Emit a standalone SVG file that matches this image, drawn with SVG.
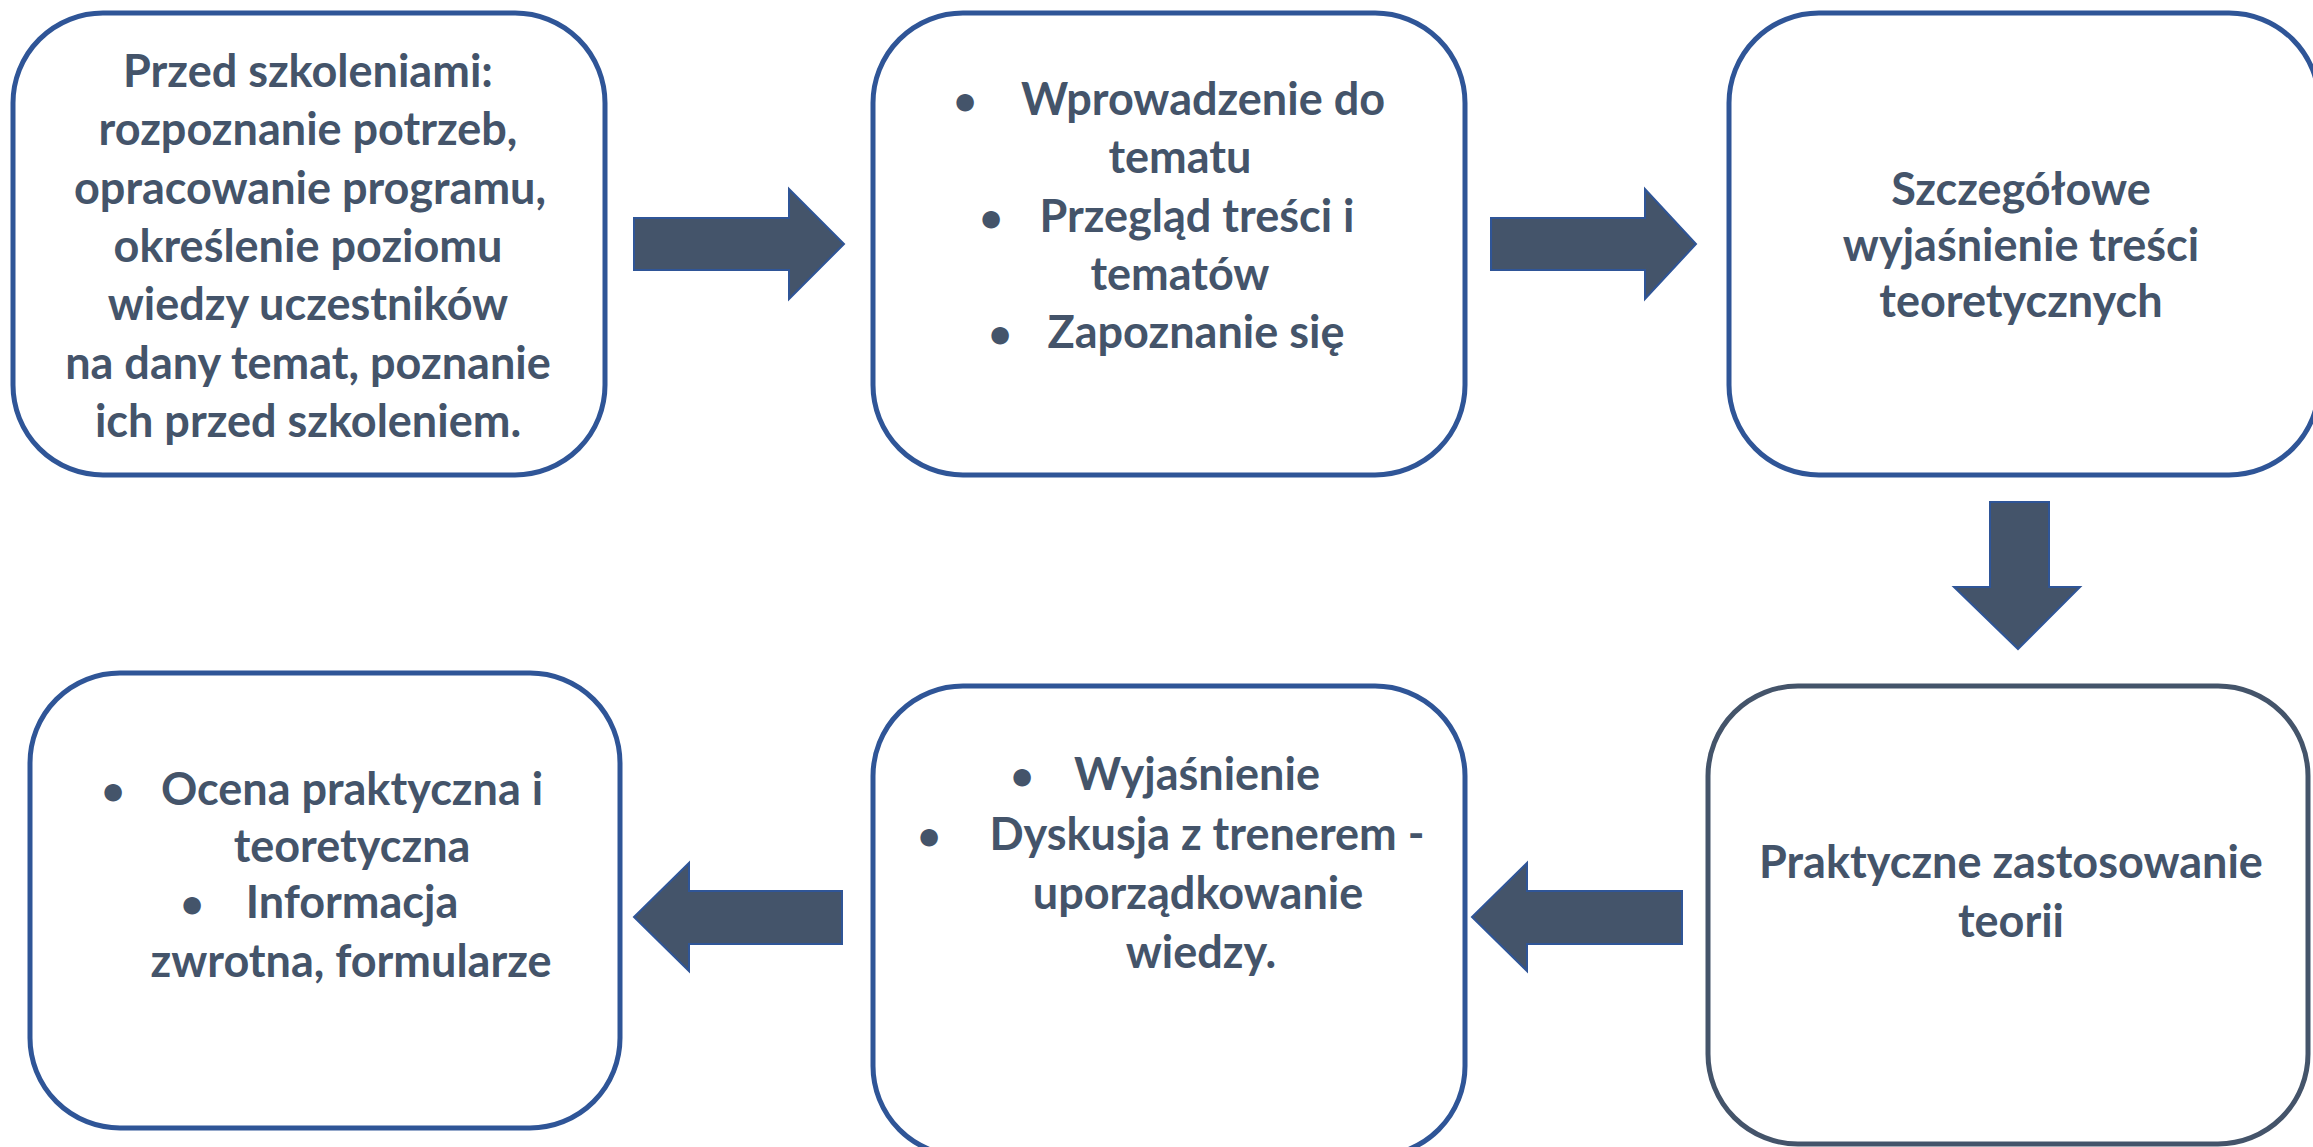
<svg xmlns="http://www.w3.org/2000/svg" width="2313" height="1147" viewBox="0 0 2313 1147">
<style>
.box{fill:#fff;stroke:#2f5597;stroke-width:5}
.box2{fill:#fff;stroke:#44546a;stroke-width:5}
.arr{fill:#44546a;stroke:#2f5597;stroke-width:2}
text{font-family:Lato,"Liberation Sans",sans-serif;font-weight:bold;fill:#44546a;font-size:45px;text-anchor:middle}
.b{font-size:40px}
</style>
<rect width="2313" height="1147" fill="#fff"/>
<g id="node1">
<rect class="box" x="13" y="13" width="592" height="462" rx="90"/>
<text x="308" y="87">Przed szkoleniami:</text>
<text x="308" y="145">rozpoznanie potrzeb,</text>
<text x="310" y="204">opracowanie programu,</text>
<text x="308" y="262">określenie poziomu</text>
<text x="308" y="320">wiedzy uczestników</text>
<text x="308" y="379">na dany temat, poznanie</text>
<text x="308" y="437">ich przed szkoleniem.</text>
</g>
<g id="node2">
<rect class="box" x="873" y="13" width="592" height="462" rx="90"/>
<text class="b" x="965" y="115">•</text><text x="1203" y="115">Wprowadzenie do</text>
<text x="1180" y="173">tematu</text>
<text class="b" x="991" y="232">•</text><text x="1197" y="232">Przegląd treści i</text>
<text x="1180" y="290">tematów</text>
<text class="b" x="1000" y="348">•</text><text x="1196" y="348">Zapoznanie się</text>
</g>
<g id="node3">
<rect class="box" x="1729" y="13" width="590" height="462" rx="90"/>
<text x="2021" y="205">Szczegółowe</text>
<text x="2021" y="261">wyjaśnienie treści</text>
<text x="2021" y="317">teoretycznych</text>
</g>
<g id="node4">
<rect class="box2" x="1708" y="686" width="600" height="458" rx="90"/>
<text x="2011" y="878">Praktyczne zastosowanie</text>
<text x="2011" y="937">teorii</text>
</g>
<g id="node5">
<rect class="box" x="873" y="686" width="592" height="470" rx="90"/>
<text class="b" x="1022" y="790">•</text><text x="1197" y="790">Wyjaśnienie</text>
<text class="b" x="929" y="850">•</text><text x="1207" y="850">Dyskusja z trenerem -</text>
<text x="1198" y="909">uporządkowanie</text>
<text x="1201" y="968">wiedzy.</text>
</g>
<g id="node6">
<rect class="box" x="30" y="673" width="590" height="455" rx="90"/>
<text class="b" x="113" y="805">•</text><text x="352" y="805">Ocena praktyczna i</text>
<text x="352" y="862">teoretyczna</text>
<text class="b" x="192" y="918">•</text><text x="352" y="918">Informacja</text>
<text x="351" y="977">zwrotna, formularze</text>
</g>
<g id="connectors">
<polygon class="arr" points="634,218 789,218 789,189 844,244 789,299 789,270 634,270"/>
<polygon class="arr" points="1491,218 1645,218 1645,189 1696,244 1645,299 1645,270 1491,270"/>
<polygon class="arr" points="1990,502 2049,502 2049,587 2080,587 2018,649 1954,587 1990,587"/>
<polygon class="arr" points="1682,891 1527,891 1527,863 1472,917 1527,971 1527,944 1682,944"/>
<polygon class="arr" points="842,891 689,891 689,863 634,917 689,971 689,944 842,944"/>
</g>
</svg>
